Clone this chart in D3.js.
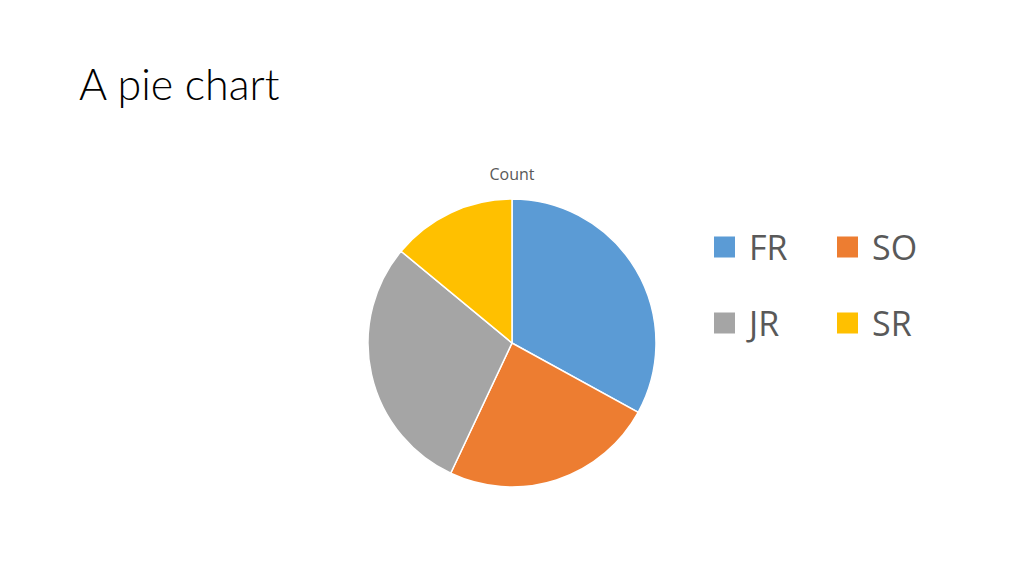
<!DOCTYPE html>
<html><head><meta charset="utf-8">
<script src="https://cdn.jsdelivr.net/npm/d3@7"></script>
<style>body{margin:0;background:#fff;} svg{display:block;}</style>
</head><body>
<svg id="chart" width="1024" height="576"></svg>
<script>
const categories = ["FR", "SO", "JR", "SR"];
const counts = [33, 24, 29, 14];
const colors = ["#5B9BD5", "#ED7D31", "#A5A5A5", "#FFC000"];
const titleText = "A pie chart";
const seriesName = "Count";

const svg = d3.select("#chart");
svg.append("text").attr("x", 79).attr("y", 100)
  .attr("font-family", "Lato, 'Open Sans', sans-serif").attr("font-weight", 300)
  .attr("font-size", 43).attr("fill", "#000").text(titleText);

svg.append("text").attr("x", 512).attr("y", 180).attr("text-anchor", "middle")
  .attr("font-family", "'Open Sans', sans-serif").attr("font-size", 16)
  .attr("fill", "#595959").text(seriesName);

const data = categories.map((c, i) => ({cat: c, value: counts[i]}));
const color = d3.scaleOrdinal().domain(categories).range(colors);
const pie = d3.pie().value(d => d.value).sort(null);
const arc = d3.arc().innerRadius(0).outerRadius(144);
const g = svg.append("g").attr("transform", "translate(512,343)");
g.selectAll("path").data(pie(data)).join("path")
  .attr("d", arc).attr("fill", d => color(d.data.cat))
  .attr("stroke", "#fff").attr("stroke-width", 1.5);

const legend = svg.append("g");
const lx = d3.scalePoint().domain([0, 1]).range([714, 837]);
const ly = d3.scalePoint().domain([0, 1]).range([247, 323]);
categories.forEach((c, i) => {
  const col = i % 2, row = Math.floor(i / 2);
  const item = legend.append("g").attr("transform", `translate(${lx(col)},${ly(row)})`);
  item.append("rect").attr("x", 0).attr("y", -10.5).attr("width", 21).attr("height", 21).attr("fill", color(c));
  item.append("text").attr("x", 35).attr("y", 12.5)
    .attr("font-family", "'Open Sans', sans-serif").attr("font-size", 34)
    .attr("fill", "#595959").text(c);
});
</script>
</body></html>
